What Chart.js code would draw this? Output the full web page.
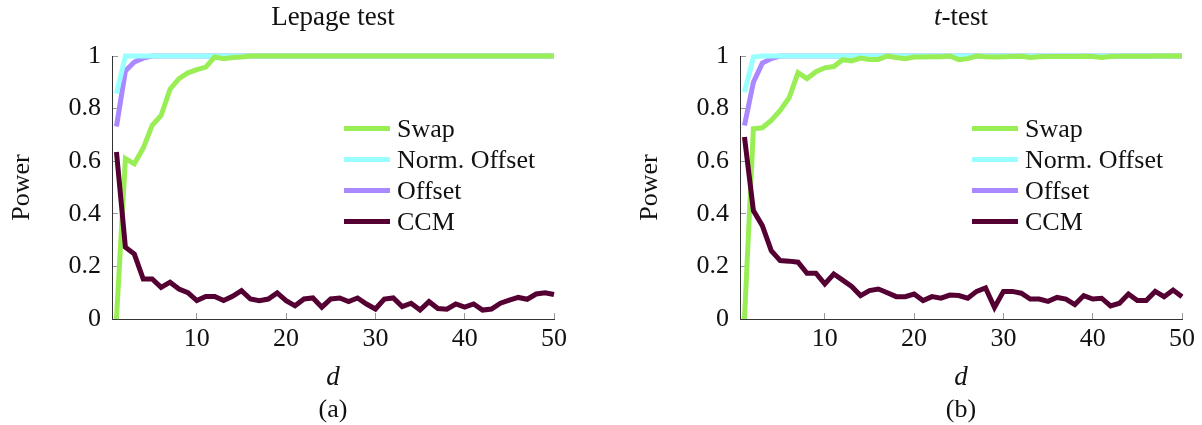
<!DOCTYPE html>
<html>
<head>
<meta charset="utf-8">
<script src="https://cdn.jsdelivr.net/npm/chart.js@4.4.1/dist/chart.umd.min.js"></script>
<style>
  body { margin: 0; background: #fff; font-family: 'Liberation Serif', serif; color: #111; }
  .panel { position: absolute; top: 0; width: 574px; height: 425px; }
  .panel canvas { position: absolute; left: 0; top: 0; }
  .title, .caption { position: absolute; left: 133px; width: 400px; text-align: center; font-size: 27px; line-height: 30px; }
  .title { top: 1px; }
  .caption { top: 394px; font-size: 26px; }
  .legend { position: absolute; left: 344px; top: 113px; font-size: 26px; }
  .legend-row { position: relative; height: 31px; line-height: 31px; white-space: nowrap; }
  .legend-row span.line { position: absolute; left: 0; top: 13px; width: 46px; height: 5px; }
  .legend-row span.text { position: absolute; left: 53px; top: 0; }
</style>
</head>
<body>

<script>
// x values (d) and tick labels
const dValues = [1, 2, 3, 4, 5, 6, 7, 8, 9, 10, 11, 12, 13, 14, 15, 16, 17, 18, 19, 20,
  21, 22, 23, 24, 25, 26, 27, 28, 29, 30, 31, 32, 33, 34, 35, 36, 37, 38, 39, 40,
  41, 42, 43, 44, 45, 46, 47, 48, 49, 50];
const xTicks = [10, 20, 30, 40, 50];
const yTicks = [0, 0.2, 0.4, 0.6, 0.8, 1];
const yTickLabels = ['0', '0.2', '0.4', '0.6', '0.8', '1'];

const seriesNames = ['Swap', 'Norm. Offset', 'Offset', 'CCM'];
const seriesColors = ['#99ee55', '#99ffff', '#aa88ff', '#550033'];

// (a) Lepage test
const lepageSwap = [0, 0.61, 0.59, 0.65, 0.736, 0.774, 0.874, 0.914, 0.936, 0.948, 0.958, 0.996, 0.99, 0.994, 0.996, 1, 1, 1, 1, 1,
  1, 1, 1, 1, 1, 1, 1, 1, 1, 1, 1, 1, 1, 1, 1, 1, 1, 1, 1, 1,
  1, 1, 1, 1, 1, 1, 1, 1, 1, 1];
const lepageNorm = [0.857, 1, 1, 1, 1, 1, 1, 1, 1, 1, 1, 1, 1, 1, 1, 1, 1, 1, 1, 1,
  1, 1, 1, 1, 1, 1, 1, 1, 1, 1, 1, 1, 1, 1, 1, 1, 1, 1, 1, 1,
  1, 1, 1, 1, 1, 1, 1, 1, 1, 1];
const lepageOffset = [0.732, 0.943, 0.977, 0.992, 1, 1, 1, 1, 1, 1, 1, 1, 1, 1, 1, 1, 1, 1, 1, 1,
  1, 1, 1, 1, 1, 1, 1, 1, 1, 1, 1, 1, 1, 1, 1, 1, 1, 1, 1, 1,
  1, 1, 1, 1, 1, 1, 1, 1, 1, 1];
const lepageCCM = [0.635, 0.273, 0.247, 0.152, 0.152, 0.12, 0.14, 0.114, 0.1, 0.07, 0.086, 0.086, 0.07, 0.086, 0.108, 0.076, 0.07, 0.076, 0.099, 0.07,
  0.05, 0.076, 0.08, 0.045, 0.076, 0.08, 0.066, 0.08, 0.057, 0.038, 0.076, 0.08, 0.047, 0.06, 0.034, 0.066, 0.04, 0.037, 0.057, 0.045,
  0.057, 0.034, 0.038, 0.06, 0.072, 0.082, 0.075, 0.095, 0.1, 0.093];

// (b) t-test
const tSwap = [0, 0.723, 0.727, 0.755, 0.793, 0.841, 0.937, 0.914, 0.94, 0.955, 0.96, 0.986, 0.981, 0.992, 0.987, 0.987, 1, 0.994, 0.99, 0.996,
  0.996, 0.997, 0.997, 1, 0.986, 0.99, 1, 0.997, 0.996, 0.997, 0.998, 0.999, 0.994, 0.997, 0.998, 0.998, 0.998, 0.998, 0.999, 0.998,
  0.994, 0.998, 0.999, 0.999, 0.999, 0.999, 1, 1, 1, 1];
const tNorm = [0.863, 0.996, 1, 1, 1, 1, 1, 1, 1, 1, 1, 1, 1, 1, 1, 1, 1, 1, 1, 1,
  1, 1, 1, 1, 1, 1, 1, 1, 1, 1, 1, 1, 1, 1, 1, 1, 1, 1, 1, 1,
  1, 1, 1, 1, 1, 1, 1, 1, 1, 1];
const tOffset = [0.736, 0.9, 0.973, 0.99, 1, 1, 1, 1, 1, 1, 1, 1, 1, 1, 1, 1, 1, 1, 1, 1,
  1, 1, 1, 1, 1, 1, 1, 1, 1, 1, 1, 1, 1, 1, 1, 1, 1, 1, 1, 1,
  1, 1, 1, 1, 1, 1, 1, 1, 1, 1];
const tCCM = [0.692, 0.412, 0.355, 0.26, 0.222, 0.22, 0.216, 0.174, 0.174, 0.133, 0.171, 0.148, 0.124, 0.089, 0.108, 0.114, 0.1, 0.085, 0.085, 0.095,
  0.07, 0.085, 0.079, 0.091, 0.089, 0.079, 0.105, 0.118, 0.044, 0.105, 0.105, 0.098, 0.076, 0.076, 0.067, 0.082, 0.076, 0.055, 0.089, 0.076,
  0.079, 0.05, 0.06, 0.095, 0.07, 0.07, 0.105, 0.085, 0.11, 0.085];

const FONT = "'Liberation Serif', serif";
// drawing order: Swap over Norm. Offset over Offset, CCM on top
const drawOrder = [1, 2, 3, 0];

function toPoints(values) {
  return values.map((v, i) => ({ x: dValues[i], y: v }));
}

function buildPanel(left, title, caption, seriesList) {
  const panel = document.createElement('div');
  panel.className = 'panel';
  panel.style.left = left + 'px';
  panel.innerHTML = `
    <canvas width="574" height="425"></canvas>
    <div class="title">${title}</div>
    <div class="caption">${caption}</div>
    <div class="legend">
      ${seriesNames.map((name, i) => `
        <div class="legend-row">
          <span class="line" style="background:${seriesColors[i]}"></span>
          <span class="text">${name}</span>
        </div>`).join('')}
    </div>`;
  document.body.appendChild(panel);

  const ctx = panel.querySelector('canvas').getContext('2d');
  new Chart(ctx, {
    type: 'line',
    data: {
      datasets: seriesList.map((values, i) => ({
        label: seriesNames[i],
        data: toPoints(values),
        borderColor: seriesColors[i],
        backgroundColor: seriesColors[i],
        borderWidth: 5,
        pointRadius: 0,
        tension: 0,
        clip: false,
        order: drawOrder[i]
      }))
    },
    options: {
      responsive: false,
      animation: false,
      layout: { padding: { left: 0, right: 20, top: 56, bottom: 31 } },
      plugins: {
        legend: { display: false },
        tooltip: { enabled: false }
      },
      scales: {
        x: {
          type: 'linear',
          min: 0.5,
          max: 50,
          afterBuildTicks: scale => { scale.ticks = xTicks.map(v => ({ value: v })); },
          afterFit: scale => {
            scale.height = 75;
            scale.paddingLeft = 0;
            scale.paddingRight = 0;
          },
          grid: { drawOnChartArea: false, tickLength: -6, color: '#999' },
          border: { color: '#333', width: 1 },
          ticks: { padding: 11, color: '#111', font: { family: FONT, size: 26 } },
          title: {
            display: true,
            text: 'd',
            color: '#111',
            padding: { top: 0, bottom: 0 },
            font: { family: FONT, size: 27, style: 'italic' }
          }
        },
        y: {
          min: 0,
          max: 1,
          afterBuildTicks: scale => { scale.ticks = yTicks.map(v => ({ value: v })); },
          afterFit: scale => {
            scale.width = 112;
            scale.paddingTop = 0;
            scale.paddingBottom = 0;
          },
          grid: { drawOnChartArea: false, tickLength: -6, color: '#999' },
          border: { color: '#333', width: 1 },
          ticks: {
            padding: 17,
            color: '#111',
            font: { family: FONT, size: 26 },
            callback: (value, index) => yTickLabels[index]
          },
          title: {
            display: true,
            text: 'Power',
            color: '#111',
            padding: { top: 7, bottom: 0 },
            font: { family: FONT, size: 26 }
          }
        }
      }
    }
  });
}

buildPanel(0, 'Lepage test', '(a)', [lepageSwap, lepageNorm, lepageOffset, lepageCCM]);
buildPanel(628, '<i>t</i>-test', '(b)', [tSwap, tNorm, tOffset, tCCM]);
</script>
</body>
</html>
